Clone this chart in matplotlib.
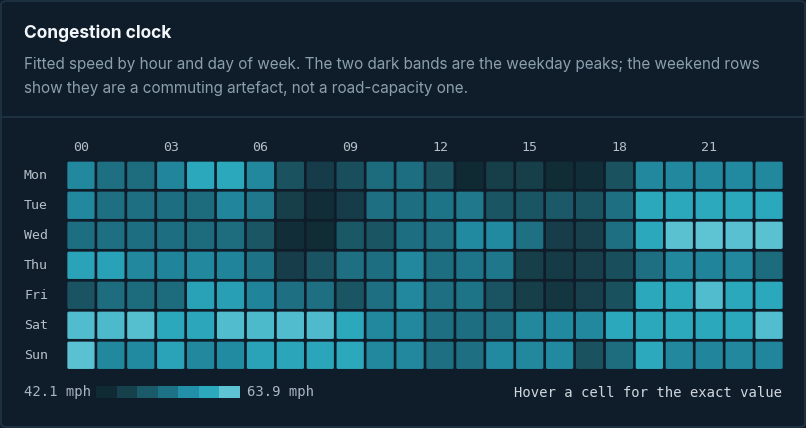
import numpy as np
import matplotlib
matplotlib.use("Agg")
import matplotlib.pyplot as plt
from matplotlib.colors import LinearSegmentedColormap, Normalize
from matplotlib.patches import FancyBboxPatch
from matplotlib import transforms

# ---- data (mph, fitted speed) ----
days = ["Mon", "Tue", "Wed", "Thu", "Fri", "Sat", "Sun"]
hours = list(range(24))
hour_labels = ["00", "03", "06", "09", "12", "15", "18", "21"]

mon = [55.6, 52.6, 52.2, 55.4, 60.0, 60.0, 55.6, 48.2, 45.0, 47.8, 52.0, 52.4,
       48.2, 42.1, 45.4, 45.4, 42.4, 42.8, 48.2, 55.6, 55.6, 55.6, 55.8, 55.6]
tue = [55.6, 52.6, 52.6, 52.4, 52.0, 55.4, 53.7, 45.4, 42.8, 45.0, 52.6, 52.4,
       53.2, 53.7, 48.6, 48.6, 49.2, 48.4, 52.6, 60.0, 60.0, 60.2, 60.0, 60.0]
wed = [52.4, 52.6, 52.4, 52.4, 52.0, 52.2, 48.8, 42.8, 42.6, 49.0, 48.6, 52.4,
       52.6, 55.8, 55.8, 52.8, 45.2, 45.6, 52.6, 60.0, 63.6, 63.9, 63.4, 63.6]
thu = [59.4, 59.2, 55.6, 55.2, 55.6, 55.2, 53.0, 45.2, 48.4, 52.6, 52.4, 55.6,
       52.4, 53.4, 53.6, 45.4, 44.8, 45.6, 47.8, 52.6, 55.6, 55.2, 55.6, 52.0]
fri = [48.4, 52.2, 52.0, 52.0, 59.2, 58.8, 55.2, 52.6, 52.6, 48.6, 52.6, 55.6,
       52.6, 53.2, 48.4, 45.4, 44.0, 45.6, 48.0, 60.0, 60.0, 62.9, 60.0, 60.0]
sat = [62.8, 62.6, 63.2, 60.0, 59.8, 62.8, 62.6, 62.9, 62.7, 60.0, 55.6, 55.6,
       52.6, 52.4, 52.6, 55.6, 55.8, 55.6, 60.0, 60.0, 60.2, 60.0, 60.0, 63.0]
sun = [63.5, 55.6, 55.8, 59.4, 55.6, 56.0, 59.4, 59.6, 59.6, 60.0, 55.6, 55.6,
       52.6, 52.6, 55.8, 55.6, 55.8, 48.2, 52.2, 60.2, 55.6, 55.4, 55.6, 55.4]

vmin, vmax = 42.1, 63.9

# ---- style ----
BG = "#0f1d2a"
BORDER = "#1f3444"
palette = ["#0f2a33", "#17414d", "#1b5a69", "#1e7285", "#2290a8", "#2ca9bd", "#5ec3d3"]
cmap = LinearSegmentedColormap.from_list("speed", palette)
norm = Normalize(vmin, vmax)
MONO = ["DejaVu Sans Mono"]
SANS = ["Inter", "DejaVu Sans"]

W, H = 806, 428
fig = plt.figure(figsize=(W / 100, H / 100), dpi=100)
fig.patch.set_facecolor(BG)


def px(x, y):
    return x / W, 1 - y / H


# card border + divider
card = FancyBboxPatch(px(1, H - 1), (W - 2) / W, (H - 2) / H,
                      boxstyle="round,pad=0,rounding_size=0.008",
                      transform=fig.transFigure, facecolor="none",
                      edgecolor=BORDER, linewidth=1.2)
fig.patches.append(card)
fig.add_artist(plt.Line2D([0, 1], [1 - 117 / H] * 2, color=BORDER, linewidth=1.2))

# header text
fig.text(*px(24, 37.5), "Congestion clock", family=SANS, fontsize=12.5,
         fontweight="bold", color="#f3f6f9", va="baseline")
fig.text(*px(24, 69.3), "Fitted speed by hour and day of week. The two dark bands are "
         "the weekday peaks; the weekend rows", family=SANS, fontsize=11,
         color="#8c9fad", va="baseline")
fig.text(*px(24, 92.5), "show they are a commuting artefact, not a road-capacity one.",
         family=SANS, fontsize=11, color="#8c9fad", va="baseline")

# heatmap
grid = np.array([mon, tue, wed, thu, fri, sat, sun])
ax = fig.add_axes([66 / W, 1 - 370.3 / H, 718 / W, 210 / H])
ax.set_facecolor(BG)
ax.set_xlim(0, 24)
ax.set_ylim(7, 0)
g = 0.045
for r in range(len(days)):
    for c in hours:
        ax.add_patch(FancyBboxPatch((c + g, r + g), 1 - 2 * g, 1 - 2 * g,
                                    boxstyle="round,pad=0,rounding_size=0.05",
                                    facecolor=cmap(norm(grid[r, c])),
                                    edgecolor="none"))
for s in ax.spines.values():
    s.set_visible(False)
ax.xaxis.tick_top()
ax.set_xticks([int(h) + 0.5 for h in hour_labels])
ax.set_xticklabels(hour_labels, family=MONO, fontsize=9.5, color="#b4c0c9")
ax.tick_params(axis="x", length=0, pad=4.5)
ax.set_yticks([])
trans = transforms.blended_transform_factory(fig.transFigure, ax.transData)
for r, d in enumerate(days):
    ax.text(24 / W, r + 0.5, d, transform=trans, family=MONO, fontsize=9.5,
            color="#b4c0c9", va="center", ha="left")

# legend
fig.text(*px(24, 392), f"{vmin} mph", family=MONO, fontsize=10, color="#a9b6c1",
         va="center")
fig.text(*px(247, 392), f"{vmax} mph", family=MONO, fontsize=10, color="#a9b6c1",
         va="center")
lax = fig.add_axes([96 / W, 1 - 398 / H, 144 / W, 12 / H])
steps = np.linspace(vmin, vmax, len(palette))
lax.imshow(steps.reshape(1, -1), cmap=cmap, norm=norm, aspect="auto",
           interpolation="nearest")
lax.axis("off")
fig.text(*px(782, 396.7), "Hover a cell for the exact value", family=MONO,
         fontsize=10, color="#d0d8df", ha="right", va="baseline")

fig.savefig("out.png", dpi=100, facecolor=BG)
